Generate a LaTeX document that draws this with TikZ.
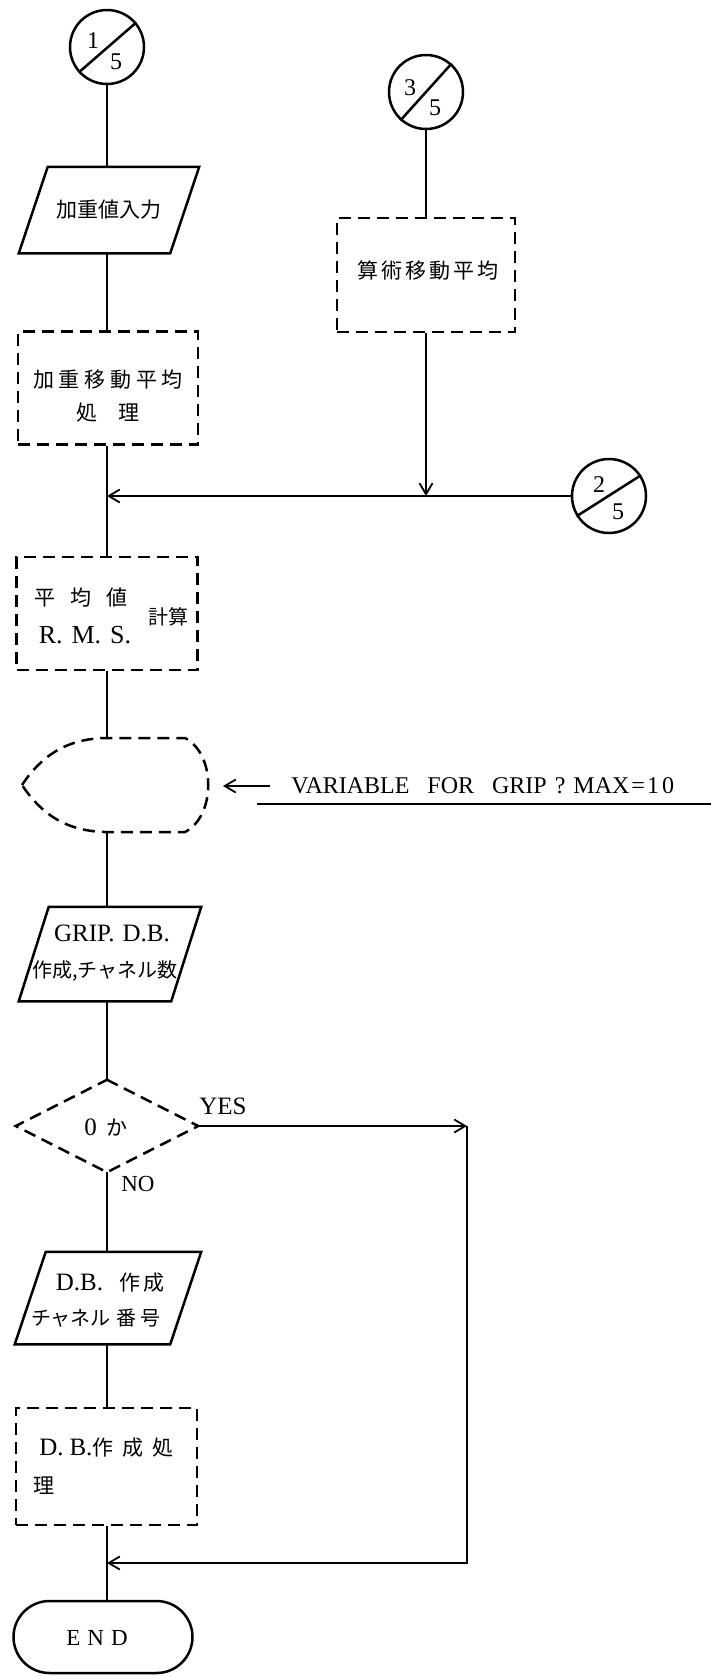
\documentclass[tikz,border=0pt]{standalone}
\usepackage{fontspec}
\setmainfont{Liberation Serif}
\newfontfamily\jpf{Noto Sans CJK JP}
\usetikzlibrary{arrows.meta,calc}
\begin{document}
\begin{tikzpicture}[x=1pt,y=-1pt,line width=2.5pt,
  conn/.style={circle,draw,minimum size=74pt,inner sep=0pt},
  dashbox/.style={draw,rectangle,dash pattern=on 12pt off 7pt,inner sep=0pt},
  ghost/.style={rectangle,inner sep=0pt},
  jt/.style={font=\jpf\fontsize{21}{26}\selectfont,inner sep=0pt},
  jts/.style={font=\jpf\fontsize{20}{24}\selectfont,inner sep=0pt},
  lt/.style={font=\fontsize{25}{28}\selectfont,inner sep=0pt},
  num/.style={font=\fontsize{24}{24}\selectfont,inner sep=0pt},
  arr/.style={-{Straight Barb[length=11pt,width=13pt,line width=1.8pt]}},
  dsh/.style={dash pattern=on 12pt off 7pt},
]
\useasboundingbox (0,0) rectangle (711,1676);

% ---------- left column ----------
\node[conn] (c1) at (107,47) {};
\draw (c1.222) -- (c1.40);
\node[num] (c1t) at ($(c1)+(-14,-6)$) {1};
\node[num] (c1b) at ($(c1)+(9,15)$) {5};

\node[ghost,minimum width=178pt,minimum height=84pt,jt] (p1) at (109,210) {加重値入力};
\draw (p1.south west) -- ([xshift=29pt]p1.north west) -- (p1.north east) -- ([xshift=-29pt]p1.south east) -- cycle;

\node[dashbox,minimum width=180pt,minimum height=113pt] (b1) at (108,388) {};
\node[jt] (b1a) at (108,380) {加 重 移 動 平 均};
\node[jt] (b1b) at (108,413) {処\hspace{22pt}理};

\coordinate (j1) at (107,496);

\node[dashbox,minimum width=181pt,minimum height=113pt] (b2) at (107,613.5) {};
\node[jt] (b2a) at (81,598) {平\hspace{15pt}均\hspace{15pt}値};
\node[font=\fontsize{26}{28}\selectfont,inner sep=0pt] (b2b) at (85,635) {R.\hspace{9pt}M.\hspace{9pt}S.};
\node[jts] (b2c) at (168,617) {計算};

\node[ghost,minimum width=186pt,minimum height=94pt] (disp) at (115,785) {};
\draw[dsh] (22,785) .. controls (40,758) and (64,739) .. (105,738) -- (185,738)
  .. controls (216,754) and (216,816) .. (185,832) -- (105,832)
  .. controls (64,831) and (40,812) .. (22,785) -- cycle;

\node[anchor=west,inner sep=0pt,font=\fontsize{24}{28}\selectfont] (var) at (290,786) {VARIABLE\hspace{18pt}FOR\hspace{18pt}GRIP\hspace{8pt}?\hspace{8pt}MAX\hspace{2pt}=\hspace{2pt}1\hspace{3pt}0};
\coordinate (va) at (270,786);
\coordinate (vb) at (223,786);
\draw[arr,line width=1.5pt] (va) -- (vb);
\coordinate (u1) at (257,804);
\coordinate (u2) at (711,804);
\draw[line width=1.8pt] (u1) -- (u2);

\node[ghost,minimum width=180pt,minimum height=92pt] (p2) at (110,954) {};
\draw (p2.south west) -- ([xshift=30pt]p2.north west) -- (p2.north east) -- ([xshift=-30pt]p2.south east) -- cycle;
\node[lt] (p2a) at (112,933) {GRIP.\hspace{8pt}D.B.};
\node[jts] (p2b) at (105,971) {作成,チャネル数};

\node[ghost,minimum width=180pt,minimum height=90pt] (dia) at (107,1126) {};
\draw[dsh] (dia.north) -- (dia.east) -- (dia.south) -- (dia.west) -- cycle;
\node[inner sep=0pt] (diat) at (106,1127) {{\fontsize{25}{25}\selectfont 0}\hspace{10pt}{\jpf\fontsize{21}{21}\selectfont か}};

\node[lt] (yes) at (223,1106) {YES};
\node[font=\fontsize{23}{26}\selectfont,inner sep=0pt] (no) at (138,1184) {NO};
\coordinate (yc) at (467,1126);
\coordinate (j3) at (107,1563);

\node[ghost,minimum width=184pt,minimum height=90pt] (p3) at (108,1298) {};
\draw (p3.south west) -- ([xshift=31pt]p3.north west) -- (p3.north east) -- ([xshift=-31pt]p3.south east) -- cycle;
\node[inner sep=0pt] (p3a) at (110,1283) {{\fontsize{25}{28}\selectfont D.B.}\hspace{16pt}{\jpf\fontsize{21}{24}\selectfont 作\hspace{3pt}成}};
\node[jts] (p3b) at (96,1318) {チャネル\hspace{6pt}番\hspace{4pt}号};

\node[dashbox,minimum width=181pt,minimum height=117pt] (b3) at (106.5,1466.5) {};
\node[inner sep=0pt,anchor=west] (b3a) at (38,1448) {{\fontsize{25}{28}\selectfont D.\hspace{6pt}B.}{\jpf\fontsize{21}{24}\selectfont 作\hspace{9pt}成\hspace{9pt}処}};
\node[jt,anchor=west] (b3b) at (32,1486) {理};

\node[draw,rounded corners=36pt,minimum width=179pt,minimum height=72pt,inner sep=0pt] (endn) at (103,1637) {};
\node[inner sep=0pt,font=\fontsize{23}{26}\selectfont] (endt) at (97,1638) {E\hspace{7pt}N\hspace{7pt}D};

% ---------- right column ----------
\node[conn] (c3) at (426,92) {};
\draw (c3.228) -- (c3.48);
\node[num] (c3t) at ($(c3)+(-16,-4)$) {3};
\node[num] (c3b) at ($(c3)+(9,16)$) {5};

\node[dashbox,minimum width=178pt,minimum height=114pt] (b4) at (426,275) {};
\node[jt] (b4t) at (428,271) {算\hspace{3pt}術\hspace{3pt}移\hspace{3pt}動\hspace{3pt}平\hspace{3pt}均};
\coordinate (j2) at (426,496);

\node[conn] (c2) at (609,496) {};
\draw (c2.212) -- (c2.33);
\node[num] (c2t) at ($(c2)+(-10,-11)$) {2};
\node[num] (c2b) at ($(c2)+(9,16)$) {5};

% ---------- connectors ----------
\draw (c1) -- (c1 |- p1.north);
\draw (c1 |- p1.south) -- (c1 |- b1.north);
\draw (c1 |- b1.south) -- (c1 |- b2.north);
\draw (c1 |- b2.south) -- (c1 |- disp.north);
\draw (c1 |- disp.south) -- (c1 |- p2.north);
\draw (c1 |- p2.south) -- (dia.north);
\draw (dia.south) -- (c1 |- p3.north);
\draw (c1 |- p3.south) -- (c1 |- b3.north);
\draw (c1 |- b3.south) -- (c1 |- endn.north);
\draw[arr] (c2) -- (j1);
\draw (c3) -- (b4);
\draw[arr,line width=1.8pt] (b4) -- (j2);
\draw[arr,line width=2pt] (dia.east) -- (yc);
\draw[arr] (yc) -- (yc |- j3) -- (j3);
\end{tikzpicture}
\end{document}
